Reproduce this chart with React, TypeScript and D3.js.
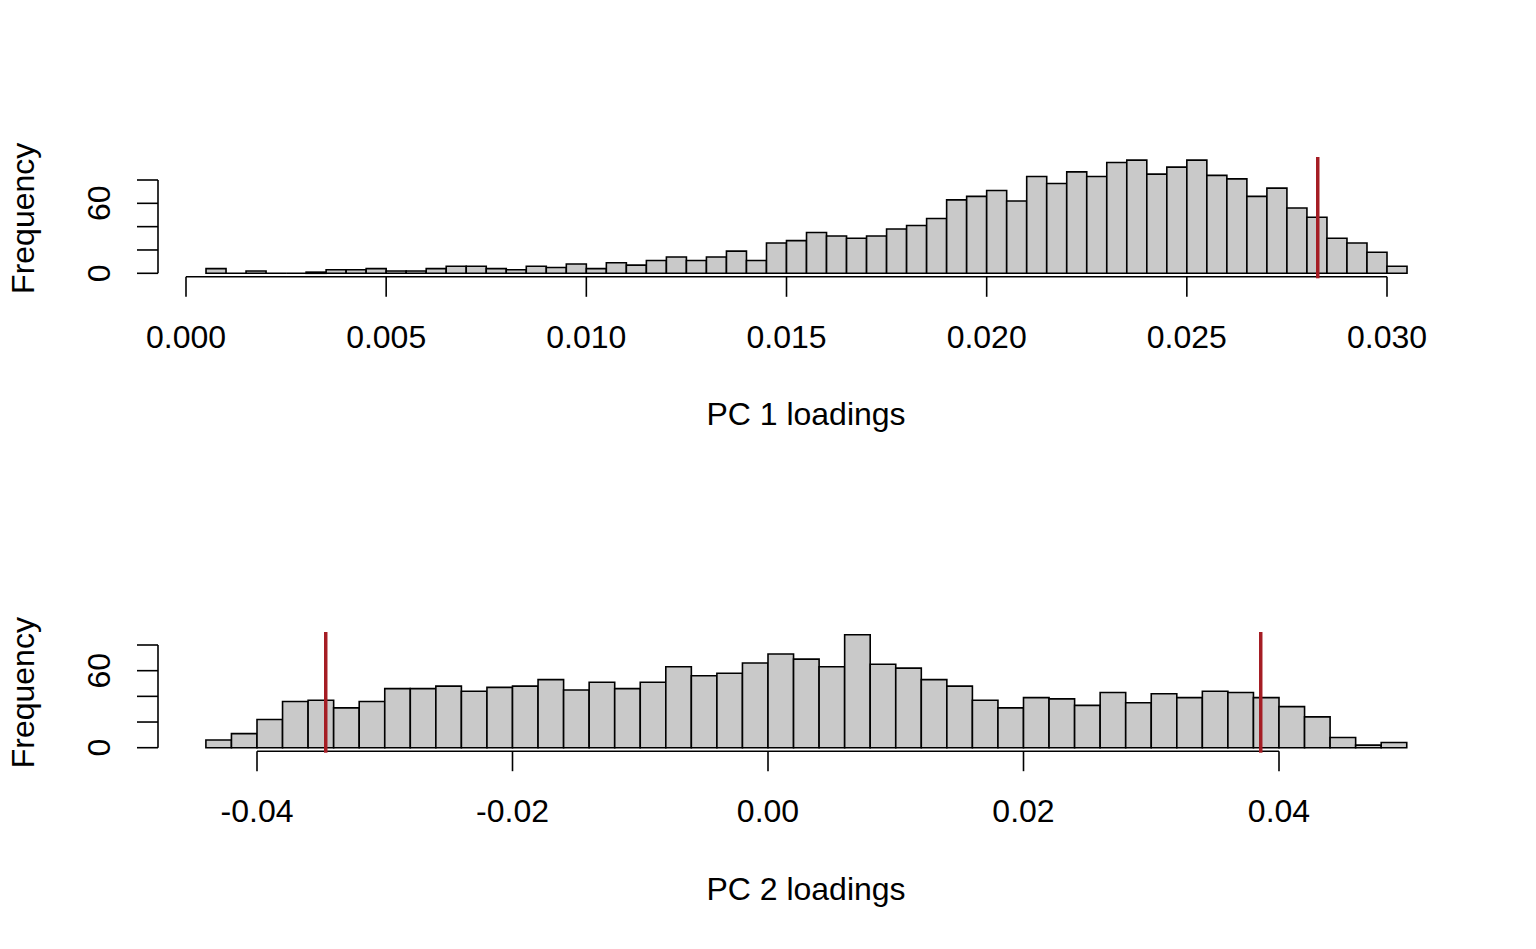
import * as d3 from "d3";
import React from "react";

// PC 1: bins of 0.0005 starting at 0.0005
const pc1Start = 0.0005;
const pc1Width = 0.0005;
const pc1Counts = [
  4, 0, 2, 0, 0, 1, 3, 3, 4, 2,
  2, 4, 6, 6, 4, 3, 6, 5, 8, 4,
  9, 7, 11, 14, 11, 14, 19, 11, 26, 28,
  35, 32, 30, 32, 38, 41, 47, 63, 66, 71,
  62, 83, 77, 87, 83, 95, 97, 85, 91, 97,
  84, 81, 66, 73, 56, 48, 30, 26, 18, 6,
];
const pc1Ticks = [0, 0.005, 0.01, 0.015, 0.02, 0.025, 0.03];
const pc1TickLabels = ["0.000", "0.005", "0.010", "0.015", "0.020", "0.025", "0.030"];
const pc1Cuts = [0.02827];

// PC 2: bins of 0.002 starting at -0.044
const pc2Start = -0.044;
const pc2Width = 0.002;
const pc2Counts = [
  6, 11, 22, 36, 37, 31, 36, 46, 46, 48,
  44, 47, 48, 53, 45, 51, 46, 51, 63, 56,
  58, 66, 73, 69, 63, 88, 65, 62, 53, 48,
  37, 31, 39, 38, 33, 43, 35, 42, 39, 44,
  43, 39, 32, 24, 8, 2, 4,
];
const pc2Ticks = [-0.04, -0.02, 0, 0.02, 0.04];
const pc2TickLabels = ["-0.04", "-0.02", "0.00", "0.02", "0.04"];
const pc2Cuts = [-0.03462, 0.03857];

const yTicks = [0, 20, 40, 60, 80];
const yLabelled = [0, 60];

const FONT = "'Liberation Sans', Arial, Helvetica, sans-serif";
const FS = 32;

const Hist = ({ counts, start, width, xDomain, xRange, yRange, ticks, tickLabels, cuts, xlab, top }) => {
  const x = d3.scaleLinear().domain(xDomain).range(xRange);
  const y = d3.scaleLinear().domain([0, 80]).range(yRange);
  const axisY = y(0) + 3.5;
  const yAxisX = 158;
  return (
    <g>
      {counts.map((c, i) => {
        const x0 = x(start + i * width);
        const x1 = x(start + (i + 1) * width);
        return (
          <path
            key={i}
            d={`M${x0},${y(0)}H${x1}V${y(c)}H${x0}Z`}
            fill="#c9c9c9"
            stroke="#000"
            strokeWidth={1.6}
          />
        );
      })}
      {/* x axis */}
      <line x1={x(ticks[0])} x2={x(ticks[ticks.length - 1])} y1={axisY} y2={axisY} stroke="#000" strokeWidth={1.6} />
      {ticks.map((t, i) => (
        <g key={i}>
          <line x1={x(t)} x2={x(t)} y1={axisY} y2={axisY + 20} stroke="#000" strokeWidth={1.6} />
          <text x={x(t)} y={axisY + 71} textAnchor="middle" fontSize={FS} fontFamily={FONT}>
            {tickLabels[i]}
          </text>
        </g>
      ))}
      {/* y axis */}
      <line x1={yAxisX} x2={yAxisX} y1={y(0)} y2={y(80)} stroke="#000" strokeWidth={1.6} />
      {yTicks.map((t) => (
        <line key={t} x1={yAxisX - 21} x2={yAxisX} y1={y(t)} y2={y(t)} stroke="#000" strokeWidth={1.6} />
      ))}
      {yLabelled.map((t) => (
        <text
          key={t}
          transform={`translate(110,${y(t)}) rotate(-90)`}
          textAnchor="middle"
          fontSize={FS}
          fontFamily={FONT}
        >
          {t}
        </text>
      ))}
      <text
        transform={`translate(34,${y(0) - 55}) rotate(-90)`}
        textAnchor="middle"
        fontSize={FS}
        fontFamily={FONT}
      >
        Frequency
      </text>
      <text x={806} y={y(0) + 152} textAnchor="middle" fontSize={FS} fontFamily={FONT}>
        {xlab}
      </text>
      {cuts.map((v, i) => (
        <line key={i} x1={x(v)} x2={x(v)} y1={top} y2={y(0) + 5} stroke="#a51d24" strokeWidth={3.5} />
      ))}
    </g>
  );
};

export default function App() {
  return (
    <svg
      width={1536}
      height={949}
      style={{ position: "absolute", left: 0, top: 0, background: "#fff" }}
    >
      <Hist
        counts={pc1Counts}
        start={pc1Start}
        width={pc1Width}
        xDomain={[0, 0.03]}
        xRange={[186, 1387]}
        yRange={[273.3, 180]}
        ticks={pc1Ticks}
        tickLabels={pc1TickLabels}
        cuts={pc1Cuts}
        xlab="PC 1 loadings"
        top={157}
      />
      <Hist
        counts={pc2Counts}
        start={pc2Start}
        width={pc2Width}
        xDomain={[-0.04, 0.04]}
        xRange={[257, 1279]}
        yRange={[747.7, 645]}
        ticks={pc2Ticks}
        tickLabels={pc2TickLabels}
        cuts={pc2Cuts}
        xlab="PC 2 loadings"
        top={632}
      />
    </svg>
  );
}
